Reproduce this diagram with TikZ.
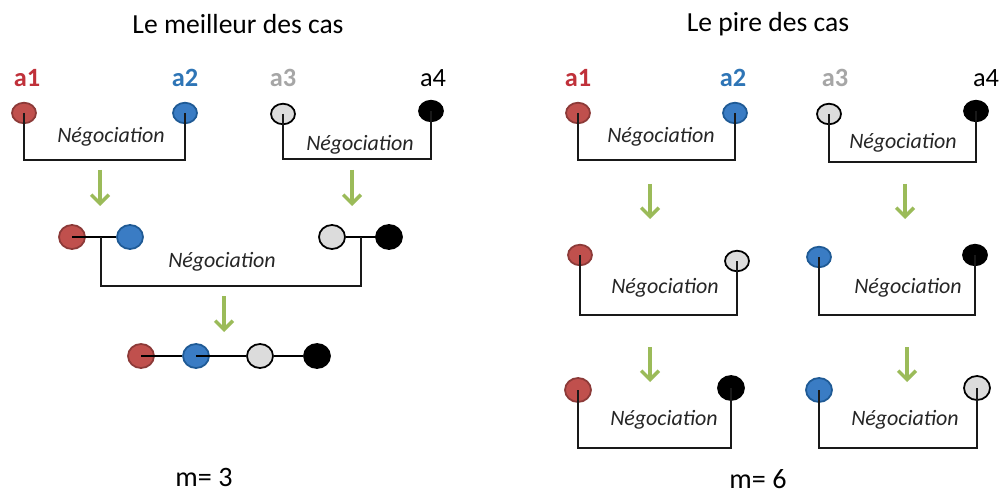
\documentclass[tikz,border=0pt]{standalone}
\usepackage{fontspec}
\setmainfont{Carlito}
\usetikzlibrary{arrows.meta,shapes.geometric}
\definecolor{redF}{HTML}{C0504D}
\definecolor{redD}{HTML}{8C3A38}
\definecolor{blueF}{HTML}{3A7CC4}
\definecolor{blueD}{HTML}{1F5A95}
\definecolor{grayF}{HTML}{DCDCDC}
\definecolor{lblRed}{HTML}{C0313A}
\definecolor{lblBlue}{HTML}{2E75B6}
\definecolor{lblGray}{HTML}{A6A6A6}
\definecolor{arrGreen}{HTML}{9BBB59}
\tikzset{
  ag/.style={ellipse, inner sep=0pt, minimum width=0.48cm, minimum height=0.41cm, line width=1pt},
  agb/.style={ag, minimum width=0.52cm, minimum height=0.48cm},
  rd/.style={fill=redF, draw=redD},
  bl/.style={fill=blueF, draw=blueD},
  gy/.style={fill=grayF, draw=black},
  bk/.style={fill=black, draw=black},
  lbl/.style={font=\fontsize{15}{18}\selectfont\bfseries, inner sep=0pt},
  neg/.style={font=\fontsize{12.5}{15}\selectfont\itshape, text=black!85, inner sep=0pt},
  title/.style={font=\fontsize{15.7}{18}\selectfont, inner sep=0pt},
  mlab/.style={font=\fontsize{16}{19}\selectfont, inner sep=0pt},
  brk/.style={draw=black!90, line width=0.9pt},
  chain/.style={draw=black, line width=1.5pt},
  garr/.style={draw=arrGreen, line width=2pt, -{Straight Barb[length=5pt,width=10pt,line width=2pt]}},
}
\begin{document}
\begin{tikzpicture}[x=0.02cm, y=-0.02cm]
\path[fill=white] (0,0) rectangle (1000,493);
\useasboundingbox (0,0) rectangle (1000,493);

% ---------- Left panel ----------
\node[title] (t1) at (238,24) {Le meilleur des cas};
\node[lbl, text=lblRed] (la1) at (27,78) {a1};
\node[lbl, text=lblBlue] (la2) at (185,78) {a2};
\node[lbl, text=lblGray] (la3) at (283,78) {a3};
\node[lbl, font=\fontsize{15}{18}\selectfont] (la4) at (433,78) {a4};

\node[ag, rd] (L1) at (24,113) {};
\node[ag, bl] (L2) at (185,113) {};
\node[ag, gy] (L3) at (283,114) {};
\node[ag, bk] (L4) at (431,111) {};
\draw[brk] (L1.center) -- (L1.center |- 0,160) -- (L2.center |- 0,160) -- (L2.center);
\draw[brk] (L3.center) -- (L3.center |- 0,159) -- (L4.center |- 0,159) -- (L4.center);
\node[neg] (n1) at (111,137) {Négociation};
\node[neg] (n2) at (360,145) {Négociation};

\coordinate (ga1) at (100,170); \coordinate (gb1) at (100,206);
\coordinate (ga2) at (352,170); \coordinate (gb2) at (352,206);
\draw[garr] (ga1) -- (gb1);
\draw[garr] (ga2) -- (gb2);

\node[agb, rd] (M1) at (72,237) {};
\node[agb, bl] (M2) at (130,237) {};
\node[agb, gy] (M3) at (332,237) {};
\node[agb, bk] (M4) at (389,237) {};
\draw[chain] (M1.center) -- (M2);
\draw[chain] (M3) -- (M4.center);
\coordinate (mA) at (101,237);
\coordinate (mB) at (361,237);
\draw[brk] (mA) -- (mA |- 0,286) -- (mB |- 0,286) -- (mB);
\node[neg] (n3) at (222,262) {Négociation};

\coordinate (ga3) at (224,296); \coordinate (gb3) at (224,332);
\draw[garr] (ga3) -- (gb3);

\node[agb, rd] (B1) at (141,356) {};
\node[agb, bl] (B2) at (196,356) {};
\node[agb, gy] (B3) at (260,356) {};
\node[agb, bk] (B4) at (317,356) {};
\draw[chain] (B1.center) -- (B2);
\draw[chain] (B2.center) -- (B3);
\draw[chain] (B3) -- (B4);

\node[mlab] (m1) at (204,477) {m= 3};

% ---------- Right panel ----------
\node[title] (t2) at (768,24) {Le pire des cas};
\node[lbl, text=lblRed] (ra1) at (578,78) {a1};
\node[lbl, text=lblBlue] (ra2) at (733,78) {a2};
\node[lbl, text=lblGray] (ra3) at (835,78) {a3};
\node[lbl, font=\fontsize{15}{18}\selectfont] (ra4) at (986,78) {a4};

\node[ag, rd] (R1) at (578,113) {};
\node[ag, bl] (R2) at (735,113) {};
\node[ag, gy] (R3) at (829,114) {};
\node[ag, bk] (R4) at (976,111) {};
\draw[brk] (R1.center) -- (R1.center |- 0,160) -- (R2.center |- 0,160) -- (R2.center);
\draw[brk] (R3.center) -- (R3.center |- 0,162) -- (R4.center |- 0,162) -- (R4.center);
\node[neg] (n4) at (661,137) {Négociation};
\node[neg] (n5) at (903,143) {Négociation};

\coordinate (ga4) at (650,184); \coordinate (gb4) at (650,219);
\coordinate (ga5) at (905,184); \coordinate (gb5) at (905,219);
\draw[garr] (ga4) -- (gb4);
\draw[garr] (ga5) -- (gb5);

\node[ag, rd] (S1) at (580,255) {};
\node[ag, gy] (S2) at (737,261) {};
\node[ag, bl] (S3) at (819,257) {};
\node[ag, bk] (S4) at (975,255) {};
\draw[brk] (S1.center) -- (S1.center |- 0,315) -- (S2.center |- 0,315) -- (S2.center);
\draw[brk] (S3.center) -- (S3.center |- 0,315) -- (S4.center |- 0,315) -- (S4.center);
\node[neg] (n6) at (665,288) {Négociation};
\node[neg] (n7) at (908,288) {Négociation};

\coordinate (ga6) at (650,347); \coordinate (gb6) at (650,382);
\coordinate (ga7) at (907,347); \coordinate (gb7) at (907,382);
\draw[garr] (ga6) -- (gb6);
\draw[garr] (ga7) -- (gb7);

\node[agb, rd] (T1) at (578,390) {};
\node[agb, bk] (T2) at (731,388) {};
\node[agb, bl] (T3) at (819,390) {};
\node[agb, gy] (T4) at (977,388) {};
\draw[brk] (T1.center) -- (T1.center |- 0,448) -- (T2.center |- 0,448) -- (T2.center);
\draw[brk] (T3.center) -- (T3.center |- 0,448) -- (T4.center |- 0,448) -- (T4.center);
\node[neg] (n8) at (664,420) {Négociation};
\node[neg] (n9) at (905,420) {Négociation};

\node[mlab] (m2) at (758,479) {m= 6};
\end{tikzpicture}
\end{document}
